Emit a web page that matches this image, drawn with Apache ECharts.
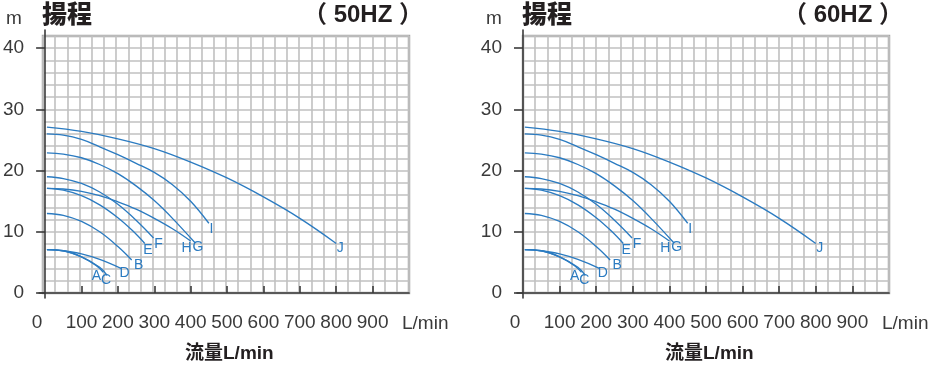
<!DOCTYPE html>
<html><head><meta charset="utf-8">
<script src="https://cdn.jsdelivr.net/npm/echarts@6/dist/echarts.min.js"></script>
<style>html,body{margin:0;padding:0;background:#fff}#c{width:930px;height:371px}</style>
</head><body><div id="c"></div>
<script>
// ---- data (flow L/min, head m) ----
const curveA = [[5,7.1],[50,6.9],[100,5.9],[140,4.5],[160,3.4]];
const curveC = [[5,7.1],[50,6.9],[100,5.9],[150,4.2],[170,2.9]];
const curveD = [[5,7.1],[50,6.9],[100,6.4],[150,5.5],[210,4.0]];
const curveB = [[5,13.0],[50,12.7],[100,11.7],[150,10.0],[200,7.6],[238,5.4]];
const curveE = [[5,17.1],[50,16.8],[100,15.9],[150,14.4],[200,12.3],[240,10.2],[274,8.1]];
const curveF = [[5,19.0],[50,18.7],[100,17.9],[150,16.5],[200,14.5],[250,11.9],[298,9.0]];
const curveH = [[5,17.1],[50,17.0],[100,16.6],[150,15.9],[200,14.9],[250,13.7],[300,12.2],[350,10.5],[400,8.5]];
const curveG = [[5,22.9],[50,22.7],[100,22.1],[150,21.0],[200,19.5],[250,17.5],[300,15.1],[350,12.2],[412,8.2]];
const curveI = [[5,26.0],[50,25.8],[100,25.1],[150,23.9],[200,22.6],[250,21.2],[300,19.7],[350,17.7],[400,15.0],[450,11.4]];
const curveJ = [[5,27.1],[100,26.4],[200,25.2],[300,23.6],[400,21.4],[500,18.8],[600,15.7],[700,12.2],[800,8.1]];
const curveNames = ['A','C','D','B','E','F','H','G','I','J'];
const curves = [curveA, curveC, curveD, curveB, curveE, curveF, curveH, curveG, curveI, curveJ];
const xTickValues = [100,200,300,400,500,600,700,800,900];
const xLabelValues = [0,100,200,300,400,500,600,700,800,900];
const yTickValues = [0,10,20,30,40];
const titles = ['（ 50HZ ）','（ 60HZ ）'];

// ---- layout ----
const labelOffsets = {A:[-7,4],C:[-1,5],D:[3,5],B:[7,5],E:[3,7],F:[5,6],H:[-4,7],G:[3,4],I:[2.5,6],J:[4,5]};
const BLUE = '#2b7bc1';
const AX = '#3a3a3a';
const boxW = 366, boxH = 257, qMax = 1000, hMax = 42;
const pxQ = boxW / qMax, pxH = boxH / hMax;
const grids = [], xAxes = [], yAxes = [], series = [], title = [];
[0, 480].forEach((dx, c) => {
  const gD = grids.length;
  grids.push({left: 37 + dx, top: 30, width: boxW + 6, height: boxH + 11, containLabel: false});
  grids.push({left: 43 + dx, top: 36, width: boxW, height: boxH, show: true, borderColor: '#a8a8a8', borderWidth: 2.5, backgroundColor: 'transparent'});
  xAxes.push({gridIndex: gD, type: 'value', min: -6 / pxQ, max: qMax,
    axisLine: {show: true, lineStyle: {color: AX, width: 1.6}},
    axisTick: {show: true, inside: true, length: 7, customValues: xTickValues, lineStyle: {color: AX, width: 1.6}},
    axisLabel: {show: true, customValues: xLabelValues, margin: 15, fontSize: 19, color: AX, fontFamily: 'Liberation Sans',
      formatter: v => v === 0 ? '{z|0}' : String(v),
      rich: {z: {padding: [0, 16, 0, 0], fontSize: 19, color: AX, fontFamily: 'Liberation Sans'}}},
    splitLine: {show: false}});
  xAxes.push({gridIndex: gD + 1, type: 'value', min: 0, max: 30, interval: 1,
    axisLine: {show: false}, axisTick: {show: false}, axisLabel: {show: false},
    splitLine: {show: true, lineStyle: {color: '#c0c0c0', width: 1.6}}});
  yAxes.push({gridIndex: gD, type: 'value', min: -5 / pxH, max: hMax + 6 / pxH,
    axisLine: {show: true, lineStyle: {color: AX, width: 1.6}},
    axisTick: {show: true, inside: false, length: 9, customValues: yTickValues, lineStyle: {color: AX, width: 1.6}},
    axisLabel: {show: true, customValues: yTickValues, margin: 15, fontSize: 19, color: AX, fontFamily: 'Liberation Sans'},
    splitLine: {show: false}});
  yAxes.push({gridIndex: gD + 1, type: 'value', min: 0, max: 21, interval: 1,
    axisLine: {show: false}, axisTick: {show: false}, axisLabel: {show: false},
    splitLine: {show: true, lineStyle: {color: '#c0c0c0', width: 1.6}}});
  curves.forEach((d, k) => {
    const nm = curveNames[k];
    series.push({type: 'line', name: nm + c, xAxisIndex: gD, yAxisIndex: gD, data: d,
      smooth: 0.4, showSymbol: false, symbol: 'none', z: 5,
      lineStyle: {color: BLUE, width: 1.35},
      endLabel: {show: true, formatter: nm, distance: 0, align: 'center', verticalAlign: 'middle',
        offset: labelOffsets[nm], color: BLUE, fontSize: 14, fontFamily: 'Liberation Sans'}});
  });
  title.push({text: 'm', left: 6 + dx, top: 9, padding: 0, textStyle: {fontSize: 19, fontWeight: 'normal', color: AX, fontFamily: 'Liberation Sans'}});
  title.push({text: '揚程', left: 42 + dx, top: 1, padding: 0, textStyle: {fontSize: 25, fontWeight: 900, color: '#231f20', fontFamily: 'Noto Sans CJK JP'}});
  title.push({text: titles[c], left: 303 + dx, top: 3, padding: 0, textStyle: {fontSize: 24, fontWeight: 'bold', color: '#231f20', fontFamily: 'Liberation Sans, Noto Sans CJK JP'}});
  title.push({text: 'L/min', left: 402 + dx, top: 314, padding: 0, textStyle: {fontSize: 19, fontWeight: 'normal', color: AX, fontFamily: 'Liberation Sans'}});
  title.push({text: '流量L/min', left: 185 + dx, top: 344, padding: 0, textStyle: {fontSize: 19, fontWeight: 'bold', color: '#231f20', fontFamily: 'Liberation Sans, Noto Sans CJK JP'}});
});
const chart = echarts.init(document.getElementById('c'), null, {renderer: 'canvas'});
chart.setOption({animation: false, backgroundColor: '#fff', title, grid: grids, xAxis: xAxes, yAxis: yAxes, series});
</script></body></html>
